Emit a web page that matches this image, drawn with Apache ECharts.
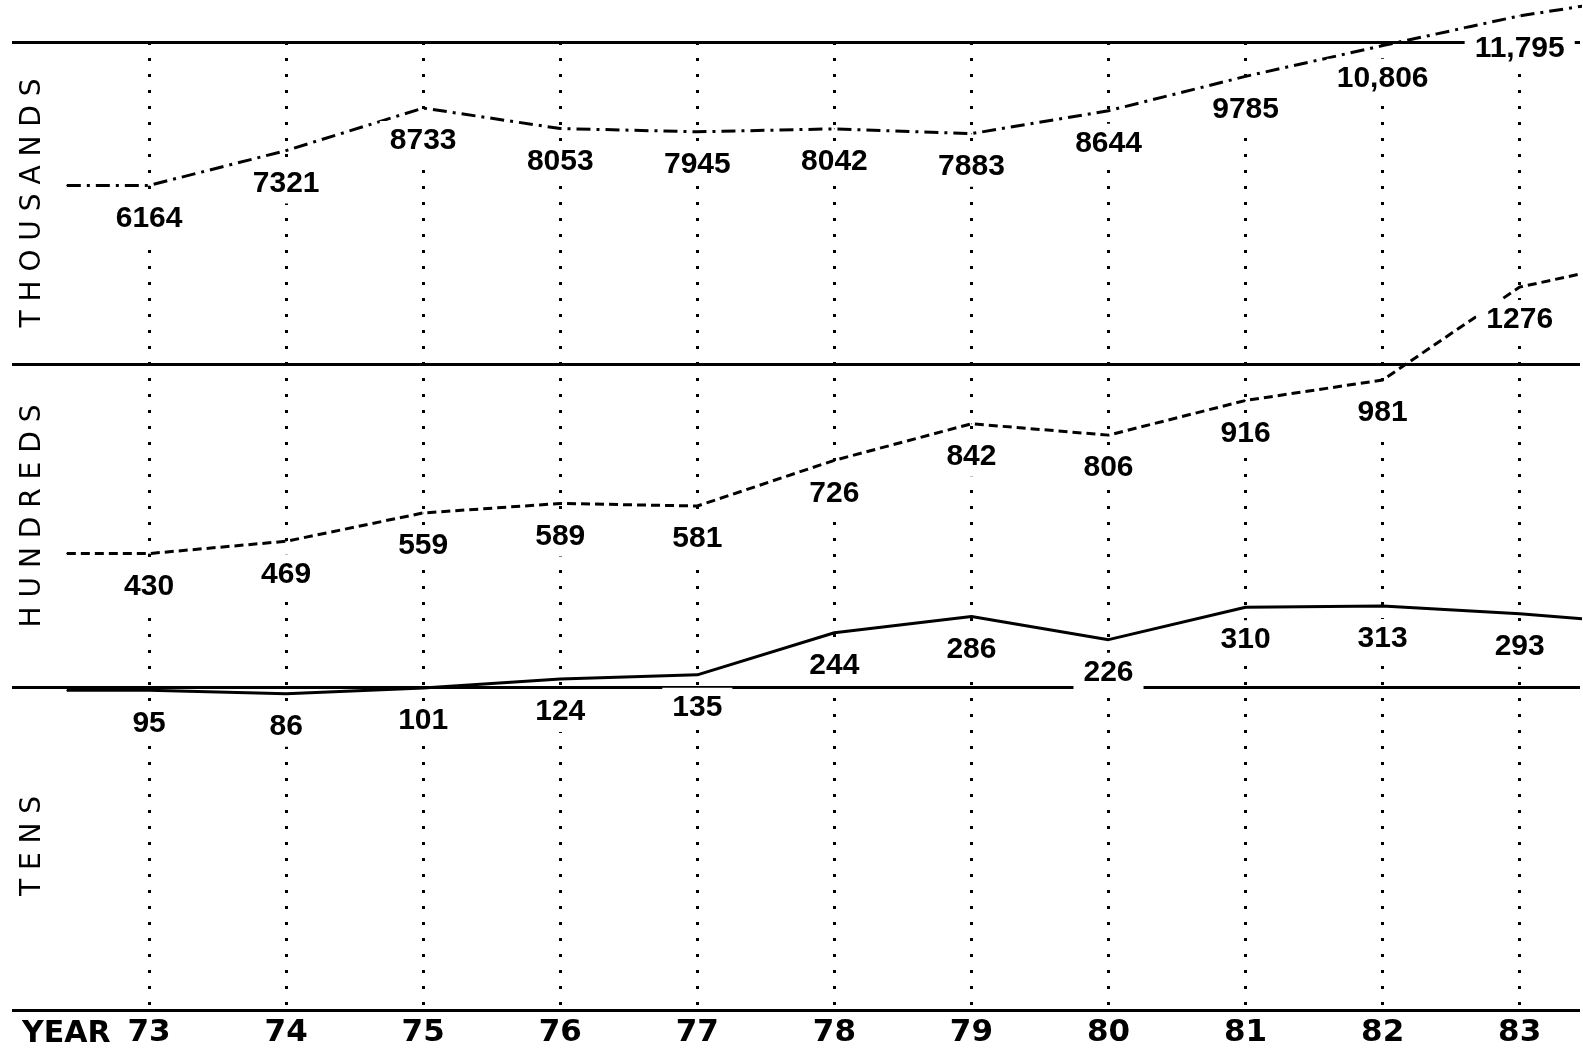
<!DOCTYPE html>
<html>
<head>
<meta charset="utf-8">
<script src="https://cdn.jsdelivr.net/npm/echarts@6/dist/echarts.min.js"></script>
<style>
  html, body { margin: 0; padding: 0; background: #fff; }
  #chart { width: 1583px; height: 1055px; }
</style>
</head>
<body>
<div id="chart"></div>
<script>
// years on the x axis and their tick labels
const years = [73, 74, 75, 76, 77, 78, 79, 80, 81, 82, 83];
const yearLabels = ['73', '74', '75', '76', '77', '78', '79', '80', '81', '82', '83'];

// the three series, one per band
const thousands = [6164, 7321, 8733, 8053, 7945, 8042, 7883, 8644, 9785, 10806, 11795];
const hundreds = [430, 469, 559, 589, 581, 726, 842, 806, 916, 981, 1276];
const tens = [95, 86, 101, 124, 135, 244, 286, 226, 310, 313, 293];

// lines run on past 83 off the right edge (estimated where they would be at 84)
const tailYear = 84;
const thousandsTail = 12500;
const hundredsTail = 1370;
const tensTail = 264;

// band names, top to bottom
const bandNames = ['THOUSANDS', 'HUNDREDS', 'TENS'];

const chartInstance = echarts.init(document.getElementById('chart'));

// the drawn lines start a little left of 73, flat at the 73 value
const leadYear = 72.4;

function buildData(values, tail) {
    const data = [{ value: [leadYear, values[0]], label: { show: false } }];
    years.forEach((yr, i) => {
        data.push({ value: [yr, values[i]] });
    });
    data.push({ value: [tailYear, tail], label: { show: false } });
    return data;
}

function fmt(v) {
    return v >= 10000 ? v.toLocaleString('en-US') : String(v);
}

const labelStyle = {
    show: true,
    position: 'inside',
    offset: [0, 33],
    color: '#000',
    fontFamily: 'Liberation Sans',
    fontWeight: 'bold',
    fontSize: 30,
    backgroundColor: '#fff',
    padding: [5, 10],
    formatter: p => fmt(p.value[1])
};

// wide letter spacing for the band names
function spaced(s) {
    return s.split('').join(' ');
}

const bandCenters = [203, 516, 846];

const option = {
    animation: false,
    backgroundColor: '#fff',
    grid: { left: 12, right: 0, top: 42, bottom: 45 },
    xAxis: {
        type: 'value',
        min: 72,
        max: 83.44,
        interval: 1,
        axisLine: { show: false },
        axisTick: { show: false },
        axisLabel: {
            margin: 7,
            color: '#000',
            fontFamily: 'DejaVu Sans',
            fontWeight: 'bold',
            fontSize: 31,
            showMinLabel: false,
            formatter: v => {
                const i = years.indexOf(Math.round(v * 100) / 100);
                return i >= 0 ? yearLabels[i] : '';
            }
        },
        splitLine: {
            show: true,
            showMinLine: false,
            showMaxLine: false,
            lineStyle: { color: '#000', width: 3, type: [3, 13] }
        }
    },
    yAxis: [
        {
            // band separators
            type: 'value',
            min: 0,
            max: 3,
            interval: 1,
            axisLine: { show: false },
            axisTick: { show: false },
            axisLabel: { show: false },
            splitLine: { show: true, lineStyle: { color: '#000', width: 3 } }
        },
        { type: 'value', show: false, min: -21222, max: 10927, splitLine: { show: false } },
        { type: 'value', show: false, min: -1019, max: 2054, splitLine: { show: false } },
        { type: 'value', show: false, min: -732, max: 1772, splitLine: { show: false } }
    ],
    graphic: bandNames.map((name, i) => ({
        type: 'text',
        x: 33,
        y: bandCenters[i],
        rotation: Math.PI / 2,
        style: {
            text: spaced(name),
            fill: '#000',
            font: '28px "DejaVu Sans"',
            textAlign: 'center',
            textVerticalAlign: 'middle'
        }
    })).concat([{
        type: 'text',
        left: 22,
        top: 1019,
        style: {
            text: 'YEAR',
            fill: '#000',
            font: 'bold 30px "DejaVu Sans"'
        }
    }]),
    series: [
        {
            name: 'thousands',
            type: 'line',
            yAxisIndex: 1,
            clip: false,
            symbol: 'circle',
            symbolSize: 1,
            itemStyle: { color: '#000' },
            lineStyle: { color: '#000', width: 3, type: [14, 6, 3, 6] },
            label: labelStyle,
            data: buildData(thousands, thousandsTail)
        },
        {
            name: 'hundreds',
            type: 'line',
            yAxisIndex: 2,
            clip: false,
            symbol: 'circle',
            symbolSize: 1,
            itemStyle: { color: '#000' },
            lineStyle: { color: '#000', width: 3, type: [9, 5] },
            label: labelStyle,
            data: buildData(hundreds, hundredsTail)
        },
        {
            name: 'tens',
            type: 'line',
            yAxisIndex: 3,
            clip: false,
            symbol: 'circle',
            symbolSize: 1,
            itemStyle: { color: '#000' },
            lineStyle: { color: '#000', width: 3 },
            label: labelStyle,
            data: buildData(tens, tensTail)
        }
    ]
};

chartInstance.setOption(option);
</script>
</body>
</html>
